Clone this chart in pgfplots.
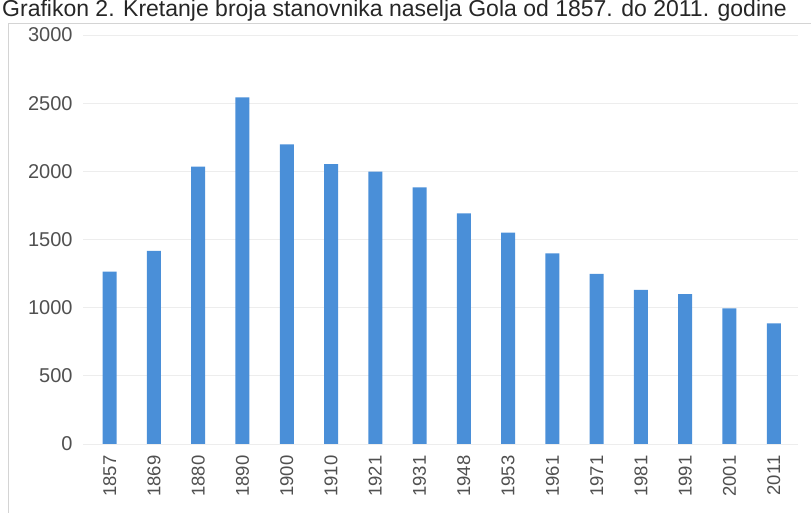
\documentclass[border=0pt]{standalone}
\usepackage{fontspec}
\setmainfont{Liberation Sans}
\usepackage{pgfplots}
\usepackage{pgfplotstable}
\pgfplotsset{compat=1.18}

\definecolor{barblue}{HTML}{4A8FD8}
\definecolor{ticktext}{HTML}{505050}
\definecolor{gridgray}{HTML}{EDEDED}
\definecolor{framegray}{HTML}{D4D4D4}

% population of the settlement by census year
\pgfplotstableread{
idx year pop
0  1857 1264
1  1869 1416
2  1880 2034
3  1890 2543
4  1900 2198
5  1910 2052
6  1921 1997
7  1931 1883
8  1948 1692
9  1953 1550
10 1961 1399
11 1971 1247
12 1981 1130
13 1991 1100
14 2001 995
15 2011 885
}\popdata

\begin{document}
\begin{tikzpicture}
\useasboundingbox (0pt,0pt) rectangle (811pt,513pt);
\draw[framegray, line width=1pt] (8pt,0pt) -- (8pt,489pt) -- (811pt,489pt);
\node[anchor=base west, inner sep=0pt, text=black!85, font=\fontsize{23}{27}\selectfont]
  at (2pt,496pt) {Grafikon 2. Kretanje broja stanovnika naselja Gola od 1857. do 2011. godine};
\begin{axis}[
  at={(83.1pt,69pt)}, anchor=south west,
  scale only axis, width=715pt, height=409pt,
  xmin=-0.6, xmax=15.55, ymin=0, ymax=3000,
  ybar, bar width=14pt,
  xtick=data, xticklabels from table={\popdata}{year},
  ytick={0,500,...,3000},
  ymajorgrids, grid style={gridgray, line width=0.8pt},
  axis line style={draw=none},
  major tick length=0pt,
  tick label style={text=ticktext},
  /pgf/number format/assume math mode=true,
  /pgf/number format/1000 sep={},
  xticklabel style={rotate=90, anchor=east, font=\fontsize{18.5}{20}\selectfont},
  yticklabel style={font=\fontsize{20}{22}\selectfont},
  xticklabel shift=8pt,
  yticklabel shift=7pt,
]
\addplot[fill=barblue, draw=none] table[x=idx, y=pop] {\popdata};
\end{axis}
\end{tikzpicture}
\end{document}
